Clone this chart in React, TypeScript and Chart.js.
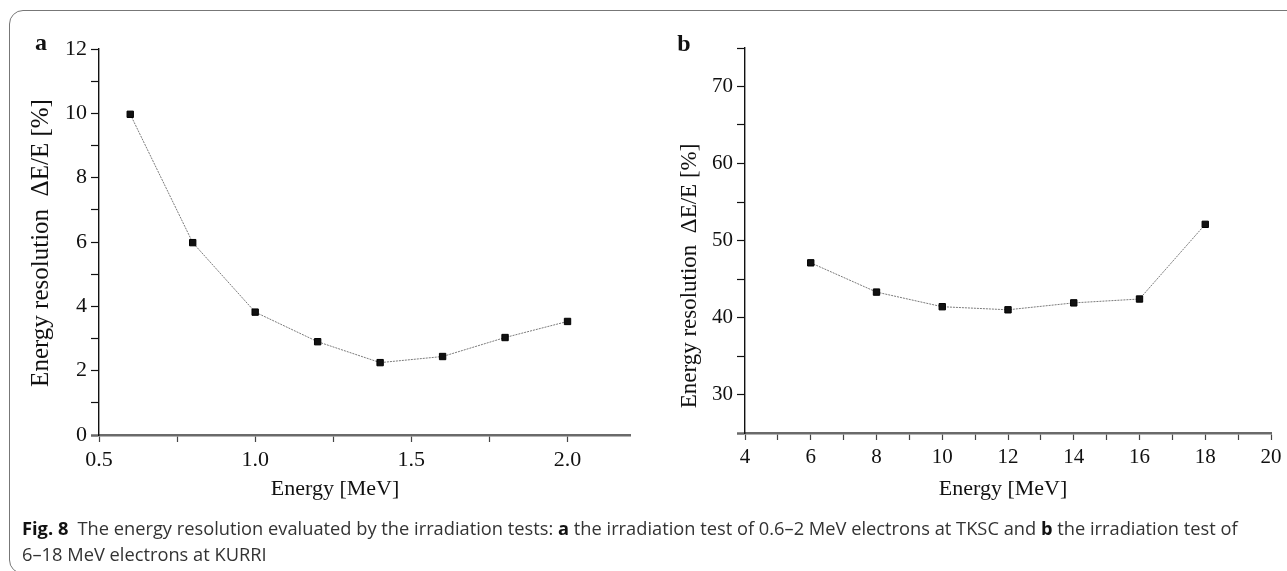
import { useEffect, useRef } from "react";
import { Chart, registerables } from "chart.js";

Chart.register(...registerables);

// ---- data ----
const energyA = [0.6, 0.8, 1.0, 1.2, 1.4, 1.6, 1.8, 2.0];
const resolutionA = [9.97, 5.98, 3.82, 2.9, 2.25, 2.44, 3.03, 3.53];
const energyB = [6, 8, 10, 12, 14, 16, 18];
const resolutionB = [47.1, 43.3, 41.4, 41.0, 41.9, 42.4, 52.1];

const xLabelsA = [0.5, 1.0, 1.5, 2.0];
const yLabelsA = [0, 2, 4, 6, 8, 10, 12];
const xLabelsB = [4, 6, 8, 10, 12, 14, 16, 18, 20];
const yLabelsB = [30, 40, 50, 60, 70];

const panelLetters = ["a", "b"];
const xTitle = "Energy [MeV]";
const yTitle = "Energy resolution  \u0394E/E [%]";

const SERIF = "'Liberation Serif', 'DejaVu Serif', serif";

const textPlugin = {
  id: "panelText",
  afterDraw(chart: any, _args: any, opts: any) {
    const ctx = chart.ctx;
    for (const t of opts.items || []) {
      ctx.save();
      ctx.font = t.font;
      ctx.fillStyle = t.color || "#111";
      ctx.textAlign = "center";
      ctx.textBaseline = "middle";
      ctx.translate(t.x, t.y);
      if (t.rotate) ctx.rotate(-Math.PI / 2);
      ctx.fillText(t.text, 0, 0);
      ctx.restore();
    }
  },
};

function has(list: number[], v: number) {
  return list.some((l) => Math.abs(l - v) < 1e-6);
}

function makeConfig(opts: {
  xs: number[];
  ys: number[];
  xMin: number;
  xMax: number;
  xStep: number;
  xLabels: number[];
  xFmt: (v: number) => string;
  yMin: number;
  yMax: number;
  yStep: number;
  yLabels: number[];
  yWidth: number;
  xHeight: number;
  tickSize: number;
  padding: any;
  texts: any[];
}) {
  const data = opts.xs.map((x, i) => ({ x, y: opts.ys[i] }));
  const isBottom = (ctx: any) => ctx.tick && Math.abs(ctx.tick.value - opts.yMin) < 1e-6;
  return {
    type: "scatter" as const,
    data: {
      datasets: [
        {
          data,
          showLine: true,
          borderColor: "#7a7a7a",
          borderWidth: 1,
          borderDash: [2, 1],
          pointStyle: "rect",
          pointRadius: 4.5,
          pointBackgroundColor: "#111",
          pointBorderColor: "#000",
          pointBorderWidth: 1,
        },
      ],
    },
    options: {
      responsive: false,
      animation: false,
      devicePixelRatio: 1,
      layout: { padding: opts.padding },
      plugins: {
        legend: { display: false },
        tooltip: { enabled: false },
        panelText: { items: opts.texts },
      },
      scales: {
        x: {
          type: "linear",
          min: opts.xMin,
          max: opts.xMax,
          afterFit: (s: any) => {
            s.height = opts.xHeight;
          },
          grid: {
            drawOnChartArea: false,
            drawTicks: true,
            tickLength: 7,
            tickColor: "#444",
            tickWidth: 1.2,
          },
          border: { display: true, color: "#6a6a6a", width: 2.5 },
          ticks: {
            stepSize: opts.xStep,
            includeBounds: false,
            autoSkip: false,
            maxRotation: 0,
            padding: 5,
            color: "#111",
            font: { family: SERIF, size: opts.tickSize },
            callback: (v: any) => (has(opts.xLabels, Number(v)) ? opts.xFmt(Number(v)) : ""),
          },
        },
        y: {
          type: "linear",
          min: opts.yMin,
          max: opts.yMax,
          afterFit: (s: any) => {
            s.width = opts.yWidth;
          },
          grid: {
            drawOnChartArea: false,
            drawTicks: true,
            tickLength: 8,
            tickColor: (ctx: any) => (isBottom(ctx) ? "#6a6a6a" : "#111"),
            tickWidth: (ctx: any) => (isBottom(ctx) ? 2.5 : 1.2),
          },
          border: { display: true, color: "#111", width: 1.4 },
          ticks: {
            stepSize: opts.yStep,
            includeBounds: false,
            autoSkip: false,
            padding: 4,
            color: "#111",
            font: { family: SERIF, size: opts.tickSize },
            callback: (v: any) => (has(opts.yLabels, Number(v)) ? String(Number(v)) : ""),
          },
        },
      },
    },
    plugins: [textPlugin],
  };
}

function ChartCanvas({ config, left, width, height }: any) {
  const ref = useRef<HTMLCanvasElement | null>(null);
  useEffect(() => {
    if (!ref.current) return;
    const chart = new Chart(ref.current, config as any);
    return () => chart.destroy();
  }, []);
  return (
    <canvas
      ref={ref}
      width={width}
      height={height}
      style={{ position: "absolute", left, top: 0, width, height }}
    />
  );
}

export default function App() {
  const H = 520;
  const configA = makeConfig({
    xs: energyA,
    ys: resolutionA,
    xMin: 0.5,
    xMax: 2.2,
    xStep: 0.25,
    xLabels: xLabelsA,
    xFmt: (v) => v.toFixed(1),
    yMin: 0,
    yMax: 12,
    yStep: 1,
    yLabels: yLabelsA,
    yWidth: 99,
    xHeight: H - 435,
    tickSize: 22,
    padding: { left: 0, top: 49, right: 30, bottom: 0 },
    texts: [
      { text: panelLetters[0], x: 41, y: 44, font: `bold 24px ${SERIF}` },
      { text: xTitle, x: 335, y: 489, font: `22px ${SERIF}` },
      { text: yTitle, x: 41, y: 243, rotate: true, font: `25px ${SERIF}` },
    ],
  });
  const configB = makeConfig({
    xs: energyB,
    ys: resolutionB,
    xMin: 4,
    xMax: 20,
    xStep: 1,
    xLabels: xLabelsB,
    xFmt: (v) => String(v),
    yMin: 25,
    yMax: 75,
    yStep: 5,
    yLabels: yLabelsB,
    yWidth: 85,
    xHeight: H - 433,
    tickSize: 21,
    padding: { left: 0, top: 48, right: 16, bottom: 0 },
    texts: [
      { text: panelLetters[1], x: 24, y: 45, font: `bold 24px ${SERIF}` },
      { text: xTitle, x: 343, y: 489, font: `22px ${SERIF}` },
      { text: yTitle, x: 30, y: 276, rotate: true, font: `23px ${SERIF}` },
    ],
  });

  return (
    <div
      style={{
        position: "fixed",
        left: 0,
        top: 0,
        width: 1287,
        height: 571,
        overflow: "hidden",
        background: "#fff",
      }}
    >
      <div
        style={{
          position: "absolute",
          left: 9,
          top: 10,
          width: 1330,
          height: 564,
          border: "1.5px solid #777",
          borderRadius: 14,
          boxSizing: "border-box",
        }}
      />
      <ChartCanvas config={configA} left={0} width={660} height={H} />
      <ChartCanvas config={configB} left={660} width={627} height={H} />
      <div
        style={{
          position: "absolute",
          left: 22,
          top: 515,
          fontFamily: "'Open Sans', 'Noto Sans', sans-serif",
          fontSize: 18,
          lineHeight: "26px",
          color: "#333",
          whiteSpace: "nowrap",
          transformOrigin: "0 0",
          transform: "scaleX(1.015)",
        }}
      >
        <b style={{ color: "#111" }}>Fig. 8</b>
        {"\u2002The energy resolution evaluated by the irradiation tests: "}
        <b style={{ color: "#111" }}>a</b>
        {" the irradiation test of 0.6\u20132 MeV electrons at TKSC and "}
        <b style={{ color: "#111" }}>b</b>
        {" the irradiation test of"}
        <br />
        {"6\u201318 MeV electrons at KURRI"}
      </div>
    </div>
  );
}
